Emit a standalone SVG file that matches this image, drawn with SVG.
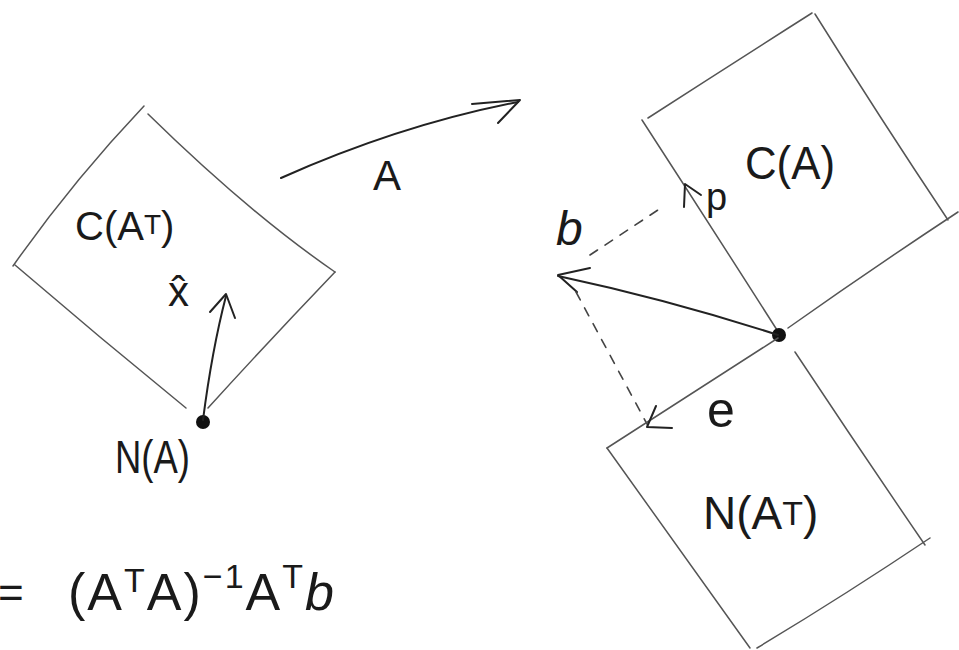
<svg xmlns="http://www.w3.org/2000/svg" width="959" height="650" viewBox="0 0 959 650">
<style>
.box{fill:none;stroke:#555;stroke-width:1.5;stroke-linecap:round;stroke-linejoin:round}
.arr{fill:none;stroke:#222;stroke-width:2;stroke-linecap:round;stroke-linejoin:round}
.dash{fill:none;stroke:#444;stroke-width:1.6;stroke-dasharray:9 9;stroke-linecap:round}
.lbl{font-family:"Liberation Sans","DejaVu Sans",sans-serif;fill:#1a1a1a}
.dot{fill:#111}
</style>
<rect width="959" height="650" fill="#fff"/>
<g id="row-space">
<path class="box" d="M144,106 Q72,182 13,266"/>
<path class="box" d="M148,114 Q248,212 335,272"/>
<path class="box" d="M15,265 Q100,338 186,408"/>
<path class="box" d="M335,272 Q268,342 208,408"/>
<text class="lbl" x="75" y="240" font-size="40">C(A<tspan font-size="28" dy="-6">T</tspan><tspan dy="6">)</tspan></text>
</g>
<g id="nullspace-A">
<circle class="dot" cx="203" cy="422" r="7"/>
<text class="lbl" x="115" y="473" font-size="46" textLength="75" lengthAdjust="spacingAndGlyphs">N(A)</text>
</g>
<g id="column-space">
<path class="box" d="M642,120 Q712,228 777,330"/>
<path class="box" d="M648,118 Q730,65 812,13"/>
<path class="box" d="M815,14 Q880,118 948,220"/>
<path class="box" d="M788,328 Q870,270 958,212"/>
<text class="lbl" x="745" y="179" font-size="46" textLength="90" lengthAdjust="spacingAndGlyphs">C(A)</text>
</g>
<g id="left-nullspace">
<path class="box" d="M607,448 Q680,550 750,648"/>
<path class="box" d="M757,648 Q845,595 930,538"/>
<path class="box" d="M795,352 Q860,450 925,545"/>
<text class="lbl" x="703" y="529" font-size="46">N(A<tspan font-size="34" dy="-4">T</tspan><tspan dy="4">)</tspan></text>
</g>
<g id="origin">
<circle class="dot" cx="779" cy="335" r="7"/>
</g>
<g id="connectors">
<path class="arr" d="M203,420 Q212,350 226,296"/>
<path class="arr" d="M210,312 L226,294 L235,318"/>
<text class="lbl" x="168" y="306" font-size="42">x̂</text>
<path class="arr" d="M281,178 Q400,125 518,102"/>
<path class="arr" d="M472,104 L520,100 L498,123"/>
<text class="lbl" x="373" y="190" font-size="42">A</text>
<path class="arr" d="M778,335 Q670,300 558,276"/>
<path class="arr" d="M590,268 L558,275 L577,292"/>
<text class="lbl" x="556" y="245" font-size="48" font-style="italic">b</text>
<path class="dash" d="M590,255 L664,206"/>
<path class="arr" d="M684,207 L685,184 L701,195"/>
<text class="lbl" x="706" y="210" font-size="38">p</text>
<path class="dash" d="M576,292 L647,424"/>
<path class="box" d="M778,338 Q690,395 607,448"/>
<path class="arr" d="M656,406 L647,427 L672,428"/>
<text class="lbl" x="707" y="427" font-size="50">e</text>
</g>
<g id="formula">
<text class="lbl" x="-2" y="608" font-size="44">=</text>
<text class="lbl" x="68" y="610" font-size="52" letter-spacing="2">(A<tspan font-size="34" dy="-18">T</tspan><tspan dy="18">A)</tspan><tspan font-size="34" dy="-22">−1</tspan><tspan dy="22">A</tspan><tspan font-size="34" dy="-22">T</tspan><tspan dy="22" font-style="italic">b</tspan></text>
</g>
</svg>
